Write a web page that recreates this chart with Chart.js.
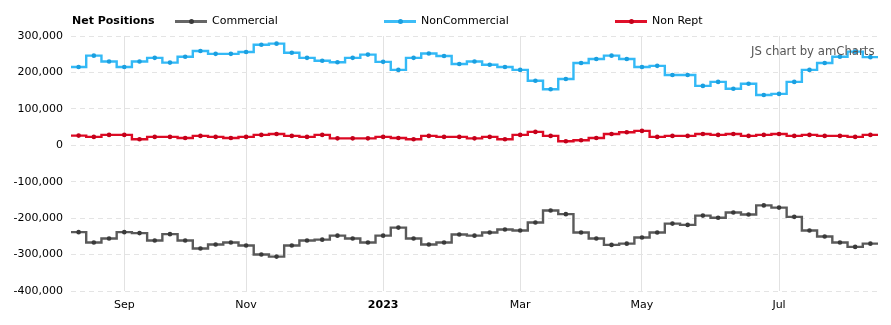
<!DOCTYPE html>
<html>
<head>
<meta charset="utf-8">
<script src="https://cdn.jsdelivr.net/npm/chart.js@4/dist/chart.umd.min.js"></script>
<style>
  html, body { margin: 0; padding: 0; background: #fff; }
  #wrap { position: relative; width: 891px; height: 325px; font-family: "DejaVu Sans", Verdana, sans-serif; }
  canvas { position: absolute; left: 0; top: 0; }
  .lg { position: absolute; font-size: 11px; color: #000; line-height: 12px; white-space: nowrap; }
  .mk { position: absolute; height: 3px; width: 32px; }
  .mk i { position: absolute; left: 13.5px; top: -1px; width: 5px; height: 5px; border-radius: 50%; }
  #wm { position: absolute; left: 751px; top: 44px; font-size: 11.7px; color: #555; white-space: nowrap; }
</style>
</head>
<body>
<div id="wrap">
  <canvas id="c" width="891" height="325"></canvas>
  <div class="lg" style="left:72px;top:15px;font-weight:bold;">Net Positions</div>
  <div class="mk" style="left:175px;top:19.5px;background:#666;"><i style="background:#3a3a3a"></i></div>
  <div class="lg" style="left:212px;top:15px;">Commercial</div>
  <div class="mk" style="left:384px;top:19.5px;background:#3dbdf7;"><i style="background:#1a9fe0"></i></div>
  <div class="lg" style="left:421px;top:15px;">NonCommercial</div>
  <div class="mk" style="left:615px;top:19.5px;background:#e0102a;"><i style="background:#c4001a"></i></div>
  <div class="lg" style="left:652px;top:15px;">Non Rept</div>
  <div id="wm">JS chart by amCharts</div>
</div>
<script>
// Weekly report dates (categories)
const dates = [
  "2022-08-16","2022-08-23","2022-08-30","2022-09-06","2022-09-13","2022-09-20","2022-09-27",
  "2022-10-04","2022-10-11","2022-10-18","2022-10-25","2022-11-01","2022-11-08","2022-11-15",
  "2022-11-22","2022-11-29","2022-12-06","2022-12-13","2022-12-20","2022-12-27","2023-01-03",
  "2023-01-10","2023-01-17","2023-01-24","2023-01-31","2023-02-07","2023-02-14","2023-02-21",
  "2023-02-28","2023-03-07","2023-03-14","2023-03-21","2023-03-28","2023-04-04","2023-04-11",
  "2023-04-18","2023-04-25","2023-05-02","2023-05-09","2023-05-16","2023-05-23","2023-05-30",
  "2023-06-06","2023-06-13","2023-06-20","2023-06-27","2023-07-04","2023-07-11","2023-07-18",
  "2023-07-25","2023-08-01","2023-08-08","2023-08-15"
];

const commercial = [
  -238500,-267000,-256000,-238500,-241000,-261500,-244000,-261500,-283500,-272500,
  -267000,-275000,-300000,-305500,-275000,-261500,-259000,-248000,-256000,-267000,
  -248000,-226000,-256000,-272500,-267000,-245000,-248000,-239500,-231000,-234000,
  -212000,-179000,-189000,-239500,-256000,-273500,-270000,-253000,-239500,-215000,
  -218500,-193000,-199000,-184500,-190000,-165000,-171000,-196500,-234000,-250500,
  -267000,-279000,-270000
];

const nonCommercial = [
  215000,246000,230000,215000,230000,240000,227000,243000,259000,251000,
  251000,256000,276000,279000,254000,240000,232000,228000,240000,249000,
  229000,207000,240000,252000,245000,223000,230000,221000,215000,207000,
  177000,154000,182000,226000,237000,246000,237000,215000,218000,193000,
  193000,163000,174000,155000,169000,138000,141000,174000,207000,226000,
  243000,257000,242000
];

const nonRept = [
  26600,23000,28500,28500,16600,23000,23000,20000,25700,23000,
  20000,23000,28500,31000,25700,23000,28500,19000,19000,19000,
  23000,20000,16600,25700,23000,23000,19000,23000,16600,28500,
  36700,25700,11000,13800,20000,31000,35800,39500,23000,25700,
  25700,31000,28500,31000,25700,28500,31000,25700,28500,25700,
  25700,23000,28500
];

// Month tick labels (shown at the first week of each labelled month)
const tickDates  = ["2022-09-06","2022-11-01","2023-01-03","2023-03-07","2023-05-02","2023-07-04"];
const tickLabels = ["Sep","Nov","2023","Mar","May","Jul"];
const boldTicks  = ["2023"];

const yMin = -400000, yMax = 300000, yStep = 100000;

function tickFor(i) {
  const k = tickDates.indexOf(dates[i]);
  return k >= 0 ? tickLabels[k] : '';
}

Chart.defaults.font.family = '"DejaVu Sans", Verdana, sans-serif';
Chart.defaults.font.size = 11;
Chart.defaults.color = '#000';

const edgeSteps = {
  id: 'edgeSteps',
  beforeDatasetsDraw(chart) {
    const ctx = chart.ctx, a = chart.chartArea;
    chart.data.datasets.forEach((ds, di) => {
      const meta = chart.getDatasetMeta(di);
      if (!meta.data.length) return;
      const p0 = meta.data[0], pn = meta.data[meta.data.length - 1];
      ctx.save();
      ctx.strokeStyle = ds.borderColor;
      ctx.lineWidth = ds.borderWidth;
      ctx.beginPath();
      ctx.moveTo(a.left, p0.y); ctx.lineTo(p0.x, p0.y);
      ctx.moveTo(pn.x, pn.y); ctx.lineTo(a.right, pn.y);
      ctx.stroke();
      ctx.restore();
    });
  }
};

function ds(label, data, line, pt) {
  return {
    label, data,
    borderColor: line, backgroundColor: pt,
    pointBackgroundColor: pt, pointBorderColor: pt,
    pointRadius: 2.3, pointBorderWidth: 0, pointHoverRadius: 3,
    borderWidth: 2.4, stepped: 'middle', fill: false
  };
}

new Chart(document.getElementById('c'), {
  type: 'line',
  data: {
    labels: dates,
    datasets: [
      ds('Commercial', commercial, '#5a5a5a', '#3a3a3a'),
      ds('NonCommercial', nonCommercial, '#33b9f6', '#1a9fe0'),
      ds('Non Rept', nonRept, '#dc0a24', '#c4001a')
    ]
  },
  options: {
    responsive: false,
    animation: false,
    layout: { padding: { top: 36, right: 13, left: 0, bottom: 0 } },
    plugins: { legend: { display: false }, tooltip: { enabled: false } },
    scales: {
      x: {
        type: 'category',
        offset: true,
        border: { display: false },
        grid: {
          offset: false,
          drawTicks: false,
          color: (c) => (c.index !== undefined && tickFor(c.index)) ? '#e2e2e2' : 'rgba(0,0,0,0)',
          lineWidth: 1
        },
        ticks: {
          autoSkip: false,
          maxRotation: 0,
          padding: 8,
          callback: (v, i) => tickFor(i),
          font: (c) => ({ size: 11, weight: (c.index !== undefined && boldTicks.includes(tickFor(c.index))) ? 'bold' : 'normal' })
        },
        afterFit(s) { s.height = 34; }
      },
      y: {
        min: yMin, max: yMax,
        border: { display: false, dash: [5, 4] },
        grid: { color: '#e4e4e4', drawTicks: false, lineWidth: 1 },
        ticks: {
          stepSize: yStep,
          padding: 8,
          callback: (v) => Number(v).toLocaleString('en-US')
        },
        afterFit(s) { s.width = 71; }
      }
    }
  },
  plugins: [edgeSteps]
});
</script>
</body>
</html>
